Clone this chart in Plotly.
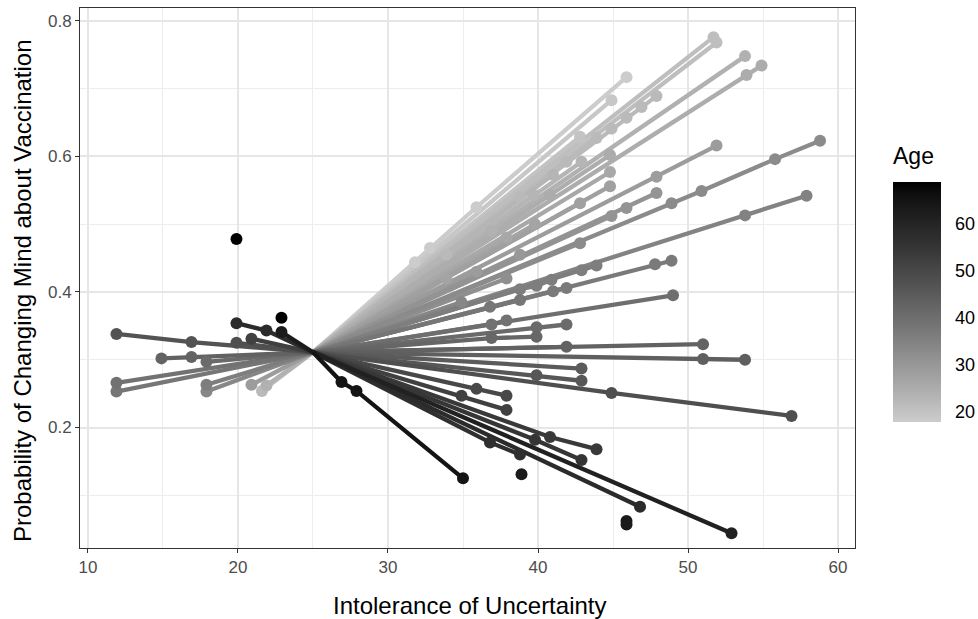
import plotly.graph_objects as go

# ---------------- data ----------------
PIVOT_IU = 25.0
PIVOT_P = 0.311

GROUP_AGE = [18, 19, 20, 21, 21, 22, 22, 22, 23, 23, 23, 24, 25, 25, 25, 26, 28, 28, 29, 31,
             31, 33, 33, 35, 36, 36, 37, 37, 38, 40, 39, 41, 42, 43, 43, 44, 45, 46, 48, 50,
             52, 54, 55, 57, 58, 61, 65,
             22, 24, 26, 27, 29, 30, 32, 34, 27, 22,
             47, 43, 58, 63, 39, 38, 36, 34, 29, 52, 48, 41, 22, 24]
GROUP_IU = [
    [31.8, 32.8, 35.9, 45.9], [44.9], [42.8], [51.7], [51.9],
    [44.9, 45.9, 46.9, 47.9], [43.9], [41.9], [41.0], [42.9], [39.7], [53.8], [40.8], [44.8],
    [53.9, 54.9], [44.8], [42.8], [44.8], [47.9, 51.9], [44.9], [45.9, 47.9],
    [48.9, 50.9, 55.8, 58.8], [42.8], [53.8, 57.9], [42.9, 43.9], [38.8, 39.9, 40.9],
    [47.8, 48.9], [41.0, 41.9], [36.8, 38.8], [49.0], [36.9, 37.9], [39.9, 41.9],
    [36.9, 39.9], [41.9], [51.0], [51.0, 53.8], [42.9], [39.9, 42.9], [44.9, 56.9],
    [35.9, 37.9], [34.9, 37.9], [40.8, 43.9], [39.8, 42.9], [36.8, 38.8], [46.8], [52.9],
    [26.9, 27.9, 35.0],
    [38.8], [36.9], [37.9], [39.8], [35.9], [38.8], [37.9], [34.9], [33.9], [33.9],
    [11.9, 16.9], [14.9, 16.9], [19.9, 21.9], [22.9], [11.9], [11.9], [17.9], [17.9],
    [20.9], [20.9], [19.9], [17.9], [21.6], [21.9],
]
GROUP_P = [
    [0.444, 0.465, 0.525, 0.717], [0.683], [0.629], [0.776], [0.768],
    [0.641, 0.657, 0.673, 0.689], [0.627], [0.592], [0.573], [0.592], [0.543], [0.748], [0.543], [0.602],
    [0.720, 0.734], [0.577], [0.531], [0.556], [0.570, 0.616], [0.512], [0.524, 0.546],
    [0.531, 0.549, 0.596, 0.623], [0.472], [0.513, 0.542], [0.432, 0.439], [0.404, 0.409, 0.418],
    [0.441, 0.446], [0.401, 0.406], [0.378, 0.388], [0.395], [0.352, 0.358], [0.348, 0.352],
    [0.332, 0.334], [0.319], [0.323], [0.301, 0.300], [0.287], [0.277, 0.269], [0.251, 0.217],
    [0.257, 0.247], [0.247, 0.226], [0.186, 0.168], [0.182, 0.152], [0.178, 0.160], [0.083], [0.044],
    [0.267, 0.254, 0.125],
    [0.540], [0.490], [0.480], [0.500], [0.430], [0.455], [0.420], [0.385], [0.420], [0.455],
    [0.338, 0.326], [0.302, 0.304], [0.354, 0.343], [0.341], [0.266], [0.253], [0.263], [0.253],
    [0.263], [0.331], [0.325], [0.297], [0.254], [0.262],
]

SINGLE_AGE = [69, 69, 63, 63, 63]
SINGLE_IU = [19.9, 22.9, 38.9, 45.9, 45.9]
SINGLE_P = [0.478, 0.362, 0.131, 0.062, 0.057]

AGE_MIN, AGE_MAX = 17.9, 69.0
X_TICKS = [10, 20, 30, 40, 50, 60]
Y_TICKS = [0.2, 0.4, 0.6, 0.8]
CBAR_TICKS = [20, 30, 40, 50, 60]

X_TITLE = "Intolerance of Uncertainty"
Y_TITLE = "Probability of Changing Mind about Vaccination"
LEGEND_TITLE = "Age"


# ---------------- colour mapping (grey80 -> black, interpolated in Lab) ----------------
def _lstar_to_hex(L):
    fy = (L + 16) / 116
    Y = fy ** 3 if L > 8 else L / 903.3
    c = 12.92 * Y if Y <= 0.0031308 else 1.055 * Y ** (1 / 2.4) - 0.055
    v = max(0, min(255, round(c * 255)))
    return "#%02x%02x%02x" % (v, v, v)


L_LOW = 82.04


def age_color(a):
    t = (a - AGE_MIN) / (AGE_MAX - AGE_MIN)
    t = max(0.0, min(1.0, t))
    return _lstar_to_hex(L_LOW * (1 - t))


colorscale = [[i / 20, _lstar_to_hex(L_LOW * (1 - i / 20))] for i in range(21)]

fig = go.Figure()

# lines: drawn in age order (older on top)
order = sorted(range(len(GROUP_AGE)), key=lambda i: GROUP_AGE[i])
for i in order:
    xs = list(GROUP_IU[i]) + [PIVOT_IU]
    ys = list(GROUP_P[i]) + [PIVOT_P]
    pairs = sorted(zip(xs, ys))
    fig.add_trace(go.Scatter(
        x=[p[0] for p in pairs], y=[p[1] for p in pairs], mode="lines",
        line=dict(color=age_color(GROUP_AGE[i]), width=4.3),
        showlegend=False, hoverinfo="skip"))

# points
px, py, pa = [], [], []
for i in order:
    px += GROUP_IU[i]
    py += GROUP_P[i]
    pa += [GROUP_AGE[i]] * len(GROUP_IU[i])
px += SINGLE_IU
py += SINGLE_P
pa += SINGLE_AGE

fig.add_trace(go.Scatter(
    x=px, y=py, mode="markers",
    marker=dict(size=12, color=pa, coloraxis="coloraxis", line=dict(width=0)),
    showlegend=False))

FONT = "Liberation Sans, Arial, sans-serif"
grid = "#E6E6E6"
axis_common = dict(
    showline=True, mirror=True, linecolor="#333333", linewidth=1,
    ticks="outside", ticklen=4, tickcolor="#333333", tickwidth=1,
    showgrid=True, gridcolor=grid, gridwidth=1.5, zeroline=False, automargin=False,
    tickfont=dict(family=FONT, size=17, color="#4D4D4D"),
)

# panel geometry in pixels
W, H = 978, 619
ML, MR, MT, MB = 80, 123, 8, 71
PW, PH = W - ML - MR, H - MT - MB


def paper_x(px_):
    return (px_ - ML) / PW


def paper_y(py_):
    return (H - MB - py_) / PH


# colorbar geometry
CB_LEFT, CB_TOP, CB_BOT, CB_W = 893, 182, 422, 48


def cb_y(v):
    return CB_BOT - (v - AGE_MIN) / (AGE_MAX - AGE_MIN) * (CB_BOT - CB_TOP)


shapes = []
annotations = [
    dict(text=X_TITLE, xref="paper", yref="paper", x=paper_x(469), y=paper_y(605),
         xanchor="center", yanchor="middle", showarrow=False,
         font=dict(family=FONT, size=24, color="black")),
    dict(text=Y_TITLE, xref="paper", yref="paper", x=paper_x(22), y=paper_y(291),
         xanchor="center", yanchor="middle", showarrow=False, textangle=-90,
         font=dict(family=FONT, size=24, color="black")),
    dict(text=LEGEND_TITLE, xref="paper", yref="paper", x=paper_x(CB_LEFT - 2), y=paper_y(156),
         xanchor="left", yanchor="middle", showarrow=False,
         font=dict(family=FONT, size=23, color="black")),
]
for v in CBAR_TICKS:
    yy = cb_y(v)
    for x0 in (CB_LEFT, CB_LEFT + CB_W - 10):
        shapes.append(dict(type="line", xref="paper", yref="paper",
                           x0=paper_x(x0), x1=paper_x(x0 + 10),
                           y0=paper_y(yy), y1=paper_y(yy),
                           line=dict(color="white", width=1.2), layer="above"))
    annotations.append(dict(text=str(v), xref="paper", yref="paper",
                            x=paper_x(CB_LEFT + CB_W + 12), y=paper_y(yy),
                            xanchor="left", yanchor="middle", showarrow=False,
                            font=dict(family=FONT, size=18, color="black")))

fig.update_layout(
    width=W, height=H,
    margin=dict(l=ML, r=MR, t=MT, b=MB),
    paper_bgcolor="white", plot_bgcolor="white",
    font=dict(family=FONT, color="black"),
    xaxis=dict(range=[9.47, 61.13], tickvals=X_TICKS,
               minor=dict(dtick=5, tick0=0, showgrid=True, gridcolor="#EDEDED", gridwidth=0.8, ticklen=0),
               **axis_common),
    yaxis=dict(range=[0.0222, 0.819], tickvals=Y_TICKS, ticktext=[f"{v:.1f}" for v in Y_TICKS],
               minor=dict(dtick=0.1, tick0=0, showgrid=True, gridcolor="#EDEDED", gridwidth=0.8, ticklen=0),
               **axis_common),
    coloraxis=dict(
        cmin=AGE_MIN, cmax=AGE_MAX, colorscale=colorscale,
        colorbar=dict(
            tickvals=CBAR_TICKS, ticks="", showticklabels=False,
            x=paper_x(CB_LEFT), xanchor="left",
            y=paper_y((CB_TOP + CB_BOT) / 2), yanchor="middle",
            len=CB_BOT - CB_TOP, lenmode="pixels", thickness=CB_W, thicknessmode="pixels",
            outlinewidth=0, xpad=0, ypad=0,
        ),
    ),
    shapes=shapes,
    annotations=annotations,
)

fig.write_html("out.html", config={"displayModeBar": False},
               post_script="document.body.style.margin='0';document.body.style.padding='0';")
